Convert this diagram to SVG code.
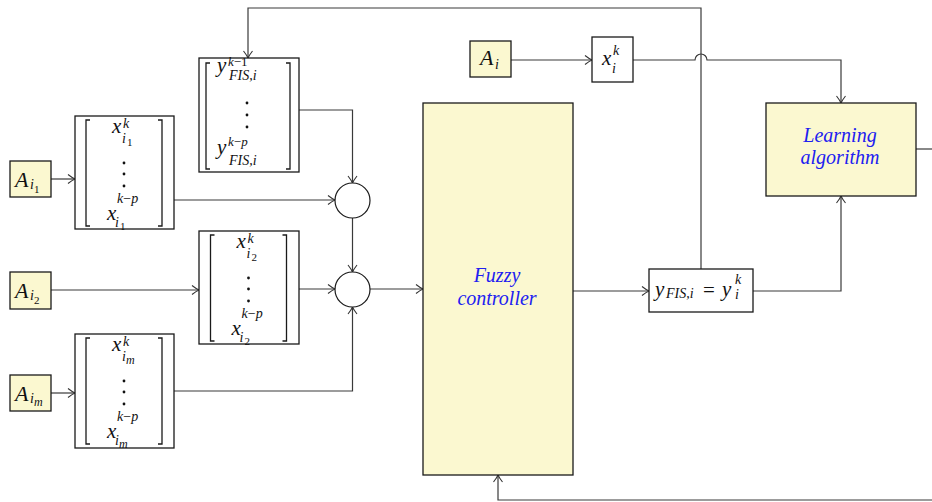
<svg xmlns="http://www.w3.org/2000/svg" width="932" height="502" viewBox="0 0 932 502">
<defs>
<style>
.box{fill:#fff;stroke:#1a1a1a;stroke-width:1.3}
.ybox{fill:#fbf8d0;stroke:#1a1a1a;stroke-width:1.3}
.circ{fill:#fff;stroke:#1a1a1a;stroke-width:1.2}
.con{fill:none;stroke:#3a3a3a;stroke-width:1.2}
.brk{fill:none;stroke:#1a1a1a;stroke-width:1.3}
.m{font-family:"Liberation Serif","DejaVu Serif",serif;font-style:italic;fill:#111}
.n{font-family:"Liberation Serif","DejaVu Serif",serif;font-style:normal;fill:#111}
.big{font-size:21px}
.sm{font-size:14px}
.xs{font-size:11px}
.fis{font-size:14px}
.lbl{font-family:"Liberation Serif","DejaVu Serif",serif;font-style:italic;font-size:20px;fill:#2020f0;text-anchor:middle}
.dot{fill:#111}
</style>
<marker id="arr" viewBox="-10 -6 12 12" markerWidth="12" markerHeight="12" refX="0" refY="0" orient="auto" markerUnits="userSpaceOnUse">
<path d="M-7,-4.5 Q-2.5,-1 0,0 Q-2.5,1 -7,4.5" fill="none" stroke="#333" stroke-width="1.1"/>
</marker>
<g id="xmat1">
<path class="brk" d="M15,4 H11 V110 H15 M83,4 H87 V110 H83"/>
<text class="m big" x="37" y="17">x</text>
<text class="m sm" x="48" y="12">k</text>
<text class="m sm" x="47" y="27">i</text>
<circle class="dot" cx="49" cy="47" r="1.4"/><circle class="dot" cx="49" cy="58" r="1.4"/><circle class="dot" cx="49" cy="70" r="1.4"/>
<text class="m big" x="32" y="104">x</text>
<text class="m sm" x="42" y="87">k<tspan class="n">−</tspan>p</text>
<text class="m sm" x="40" y="111">i</text>
</g>
</defs>
<rect width="932" height="502" fill="#fff"/>

<g id="connectors">
<path class="con" d="M51,179 H75" marker-end="url(#arr)"/>
<path class="con" d="M51,290 H199" marker-end="url(#arr)"/>
<path class="con" d="M51,393 H75" marker-end="url(#arr)"/>
<path class="con" d="M174,200 H335" marker-end="url(#arr)"/>
<path class="con" d="M299,110 H352.5 V183" marker-end="url(#arr)"/>
<path class="con" d="M352.5,218 V272" marker-end="url(#arr)"/>
<path class="con" d="M299,289 H335" marker-end="url(#arr)"/>
<path class="con" d="M174,391 H352.5 V307" marker-end="url(#arr)"/>
<path class="con" d="M370,289 H423" marker-end="url(#arr)"/>
<path class="con" d="M573,291 H649" marker-end="url(#arr)"/>
<path class="con" d="M753,291 H841 V196" marker-end="url(#arr)"/>
<path class="con" d="M701,269 V8 H248 V58" marker-end="url(#arr)"/>
<path class="con" d="M511,60 H592" marker-end="url(#arr)"/>
<path class="con" d="M633,60 H695 A6,6 0 0 1 707,60 H841 V103" marker-end="url(#arr)"/>
<path class="con" d="M916,149 H932"/>
<path class="con" d="M932,500 H498 V475" marker-end="url(#arr)"/>
</g>

<g id="A_i1">
<rect class="ybox" x="10" y="161" width="41" height="36"/>
<text class="m" font-size="22" x="15" y="187">A</text>
<text class="m sm" x="30" y="189">i</text>
<text class="n xs" x="34" y="193">1</text>
</g>
<g id="A_i2">
<rect class="ybox" x="10" y="272" width="41" height="37"/>
<text class="m" font-size="22" x="15" y="298">A</text>
<text class="m sm" x="30" y="300">i</text>
<text class="n xs" x="34" y="304">2</text>
</g>
<g id="A_im">
<rect class="ybox" x="10" y="375" width="41" height="36"/>
<text class="m" font-size="22" x="15" y="401">A</text>
<text class="m sm" x="30" y="403">i</text>
<text class="m" font-size="12" x="34" y="406">m</text>
</g>

<g id="mat_xi1" transform="translate(75,116)">
<rect class="box" x="0" y="0" width="99" height="113"/>
<use href="#xmat1"/>
<text class="n xs" x="52" y="30">1</text>
<text class="n xs" x="45" y="114">1</text>
</g>
<g id="mat_xi2" transform="translate(199,231)">
<rect class="box" x="0" y="0" width="100" height="113"/>
<use href="#xmat1" transform="translate(0.5,0)"/>
<text class="n xs" x="52.5" y="30">2</text>
<text class="n xs" x="45.5" y="114">2</text>
</g>
<g id="mat_xim" transform="translate(75,334)">
<rect class="box" x="0" y="0" width="99" height="114"/>
<use href="#xmat1"/>
<text class="m" font-size="12" x="51" y="30">m</text>
<text class="m" font-size="12" x="44" y="114">m</text>
</g>

<g id="mat_yfis" transform="translate(199,58)">
<rect class="box" x="0" y="0" width="100" height="114"/>
<path class="brk" d="M11,5 H7 V111 H11 M87,5 H91 V111 H87"/>
<text class="m big" x="18" y="14">y</text>
<text class="m" font-size="13" x="29" y="8">k<tspan class="n">−1</tspan></text>
<text class="m fis" x="30" y="22">FIS,i</text>
<circle class="dot" cx="48" cy="45" r="1.4"/><circle class="dot" cx="48" cy="57" r="1.4"/><circle class="dot" cx="48" cy="69" r="1.4"/>
<text class="m big" x="18" y="96">y</text>
<text class="m" font-size="13" x="29" y="88">k<tspan class="n">−</tspan>p</text>
<text class="m fis" x="30" y="107">FIS,i</text>
</g>

<g id="sum1"><circle class="circ" cx="352.5" cy="200.5" r="17.5"/></g>
<g id="sum2"><circle class="circ" cx="352.5" cy="289.5" r="17.5"/></g>

<g id="fuzzy">
<rect class="ybox" x="423" y="103" width="150" height="372"/>
<text class="lbl" x="497" y="282">Fuzzy</text>
<text class="lbl" x="497" y="305">controller</text>
</g>

<g id="A_i">
<rect class="ybox" x="470" y="41" width="41" height="36"/>
<text class="m" font-size="22" x="480" y="65">A</text>
<text class="m sm" x="495" y="69">i</text>
</g>

<g id="x_ik">
<rect class="box" x="592" y="37" width="41" height="45"/>
<text class="m big" x="602" y="65">x</text>
<text class="m sm" x="613" y="55">k</text>
<text class="m sm" x="612" y="73">i</text>
</g>

<g id="yfis_out">
<rect class="box" x="649" y="269" width="104" height="43"/>
<text class="m big" x="655" y="296">y</text>
<text class="m sm" x="666" y="298">FIS,i</text>
<text class="n big" x="703" y="297">=</text>
<text class="m big" x="722" y="296">y</text>
<text class="m sm" x="735" y="284">k</text>
<text class="m sm" x="735" y="299">i</text>
</g>

<g id="learning">
<rect class="ybox" x="766" y="103" width="150" height="93"/>
<text class="lbl" x="840" y="142">Learning</text>
<text class="lbl" x="840" y="164">algorithm</text>
</g>
</svg>
